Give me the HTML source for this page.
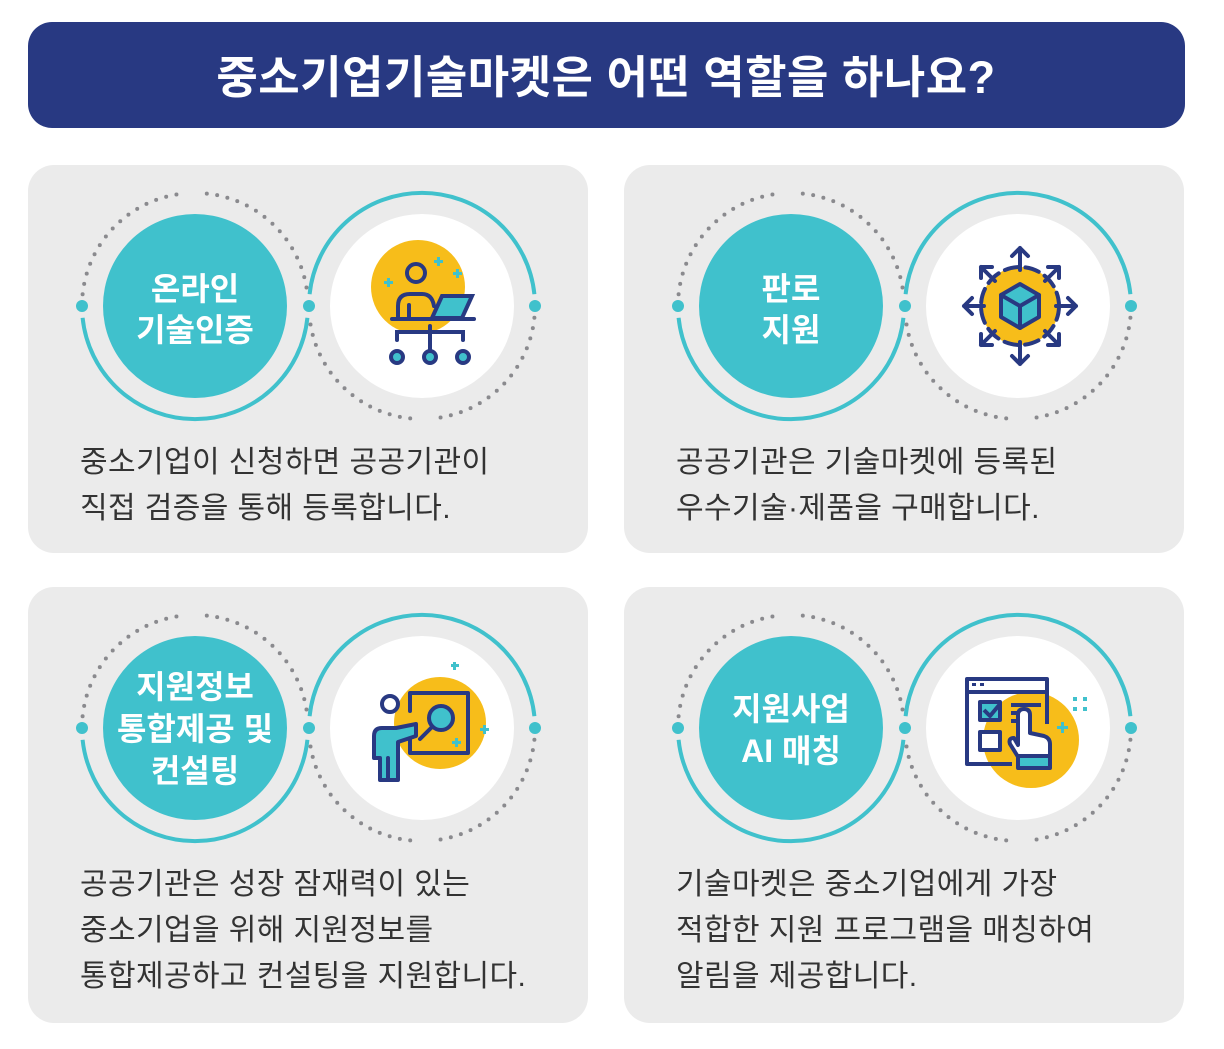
<!DOCTYPE html>
<html><head><meta charset="utf-8"><style>
body{margin:0;width:1224px;height:1044px;background:#fff;font-family:"Liberation Sans","Noto Sans CJK KR",sans-serif;overflow:hidden}
</style></head><body>
<svg width="1224" height="1044" viewBox="0 0 1224 1044" xmlns="http://www.w3.org/2000/svg" font-family="'Liberation Sans','Noto Sans CJK KR',sans-serif">
<defs>
<g id="ring">
  <path d="M-112.4 11.8 A113 113 0 0 0 112.4 11.8" fill="none" stroke="#40c1cc" stroke-width="4"/>
  <path d="M-112.4 -11.8 A113 113 0 0 1 -11.8 -112.4 M11.8 -112.4 A113 113 0 0 1 112.4 -11.8" fill="none" stroke="#8a8a8e" stroke-width="4" stroke-linecap="round" stroke-dasharray="0 10.5"/>
  <path d="M114.6 -11.8 A113 113 0 0 1 339.4 -11.8" fill="none" stroke="#40c1cc" stroke-width="4"/>
  <path d="M339.4 11.8 A113 113 0 0 1 238.8 112.4 M215.2 112.4 A113 113 0 0 1 114.6 11.8" fill="none" stroke="#8a8a8e" stroke-width="4" stroke-linecap="round" stroke-dasharray="0 10.5"/>
  <circle cx="-113" cy="0" r="6" fill="#40c1cc"/>
  <circle cx="114" cy="0" r="6" fill="#40c1cc"/>
  <circle cx="340" cy="0" r="6" fill="#40c1cc"/>
  <circle cx="0" cy="0" r="92" fill="#40c1cc"/>
  <circle cx="227" cy="0" r="92" fill="#fff"/>
</g>
</defs>
<rect x="28" y="22" width="1157" height="106" rx="24" fill="#283982"/>
<text x="606" y="93" text-anchor="middle" font-size="45" font-weight="bold" fill="#fff" letter-spacing="0.5">중소기업기술마켓은 어떤 역할을 하나요?</text>

<rect x="28" y="165" width="560" height="388" rx="26" fill="#ebebeb"/>
<rect x="624" y="165" width="560" height="388" rx="26" fill="#ebebeb"/>
<rect x="28" y="587" width="560" height="436" rx="26" fill="#ebebeb"/>
<rect x="624" y="587" width="560" height="436" rx="26" fill="#ebebeb"/>

<use href="#ring" x="195" y="306"/>
<use href="#ring" x="791" y="306"/>
<use href="#ring" x="195" y="728"/>
<use href="#ring" x="791" y="728"/>

<g fill="#fff" font-size="32" font-weight="bold" text-anchor="middle">
<text x="195" y="300">온라인</text><text x="195" y="341">기술인증</text>
<text x="791" y="300">판로</text><text x="791" y="341">지원</text>
<text x="195" y="698">지원정보</text><text x="195" y="740">통합제공 및</text><text x="195" y="782">컨설팅</text>
<text x="791" y="720">지원사업</text><text x="791" y="762">AI 매칭</text>
</g>

<g fill="#333" font-size="30" letter-spacing="0.4">
<text x="80" y="472">중소기업이 신청하면 공공기관이</text>
<text x="80" y="518">직접 검증을 통해 등록합니다.</text>
<text x="676" y="472">공공기관은 기술마켓에 등록된</text>
<text x="676" y="518">우수기술·제품을 구매합니다.</text>
<text x="80" y="894">공공기관은 성장 잠재력이 있는</text>
<text x="80" y="940">중소기업을 위해 지원정보를</text>
<text x="80" y="986">통합제공하고 컨설팅을 지원합니다.</text>
<text x="676" y="894">기술마켓은 중소기업에게 가장</text>
<text x="676" y="940">적합한 지원 프로그램을 매칭하여</text>
<text x="676" y="986">알림을 제공합니다.</text>
</g>

<!-- icon 1 -->
<g stroke="#283982" stroke-width="4" fill="none" stroke-linecap="round">
<circle cx="418" cy="287" r="47" fill="#f7bd1a" stroke="none"/>
<circle cx="416" cy="273" r="9"/>
<path d="M398 318 v-12 q0-12 12-12 h12 q10 0 12 12"/>
<path d="M409 305 v12"/>
<path d="M432 318 l10-22 h30 l-10 22 z" fill="#40c1cc"/>
<path d="M392 319 h82"/>
<path d="M430 326 v28 M397 340 v-8 h66 v8"/>
<circle cx="397" cy="357" r="6" fill="#40c1cc"/><circle cx="430" cy="357" r="6" fill="#40c1cc"/><circle cx="463" cy="357" r="6" fill="#40c1cc"/>
</g>
<g fill="#40c1cc">
<rect x="384" y="281" width="9" height="3"/><rect x="387" y="278" width="3" height="9"/>
<rect x="434" y="260" width="9" height="3"/><rect x="437" y="257" width="3" height="9"/>
<rect x="453" y="272" width="9" height="3"/><rect x="456" y="269" width="3" height="9"/></g>

<!-- icon 2 -->
<g stroke="#283982" stroke-width="4" fill="none" stroke-linecap="round" stroke-linejoin="round">
<circle cx="1020" cy="306" r="39" fill="#f7bd1a" stroke-dasharray="14 7"/>
<path d="M1020 284 l19 11 v22 l-19 11 l-19-11 v-22 z" fill="#40c1cc"/>
<path d="M1020 306 v22 M1020 306 l-19-11 M1020 306 l19-11"/>
<path d="M1020 270 v-22 M1012 256 l8-8 8 8"/>
<path d="M1020 342 v22 M1012 356 l8 8 8-8"/>
<path d="M984 306 h-20 M972 298 l-8 8 8 8"/>
<path d="M1056 306 h20 M1068 298 l8 8 -8 8"/>
<path d="M995 281 l-14-14 M981 278 v-11 h11"/>
<path d="M1045 281 l14-14 M1048 267 h11 v11"/>
<path d="M995 331 l-14 14 M981 334 v11 h11"/>
<path d="M1045 331 l14 14 M1048 345 h11 v-11"/>
</g>

<!-- icon 3 -->
<circle cx="440" cy="723" r="46" fill="#f7bd1a"/>
<g stroke="#283982" stroke-width="4" fill="none" stroke-linecap="round" stroke-linejoin="round">
<path d="M410 711 v-18 h58 v60 h-58 v-14"/>
<circle cx="441" cy="718" r="12" fill="#40c1cc"/>
<path d="M432 727 l-12 12"/>
<circle cx="390" cy="704" r="8" fill="#fff"/>
<path d="M380 780 v-22 h-6 v-22 q0-8 8-8 h14 l20-4 v12 l-18 6 v38 z" fill="#40c1cc"/>
<path d="M388 758 v22"/>
</g>
<g fill="#40c1cc"><rect x="451" y="664" width="8" height="3"/><rect x="453" y="662" width="3" height="8"/>
<rect x="480" y="728" width="9" height="3"/><rect x="483" y="725" width="3" height="9"/>
<rect x="452" y="741" width="9" height="3"/><rect x="455" y="738" width="3" height="9"/></g>

<!-- icon 4 -->
<circle cx="1031" cy="740" r="48" fill="#f7bd1a"/>
<g stroke="#283982" stroke-width="4" fill="none" stroke-linejoin="round">
<path d="M1012 764 h-45 v-85 h80 v45"/>
<path d="M967 692 h80"/>
<rect x="980" y="702" width="20" height="18" fill="#40c1cc"/>
<path d="M984 710 l6 6 10-12"/>
<rect x="980" y="732" width="20" height="18" fill="#fff"/>
<path d="M1011 705 h30 M1011 713 h10 M1011 721 h10"/>
<path d="M1018 745 v-30 q0-6 6-6 q6 0 6 6 v18 l14 3 q6 2 6 8 v16 h-30 l-10-16 q-2-6 4-6 z" fill="#fff"/>
<rect x="1018" y="756" width="32" height="12" fill="#40c1cc"/>
</g>
<g fill="#283982"><rect x="972" y="683" width="4" height="3"/><rect x="980" y="683" width="4" height="3"/></g>
<g fill="#40c1cc"><rect x="1073" y="697" width="4" height="4"/><rect x="1083" y="697" width="4" height="4"/><rect x="1073" y="707" width="4" height="4"/><rect x="1083" y="707" width="4" height="4"/>
<rect x="1057" y="726" width="11" height="3"/><rect x="1061" y="722" width="3" height="11"/></g>
</svg>
</body></html>
